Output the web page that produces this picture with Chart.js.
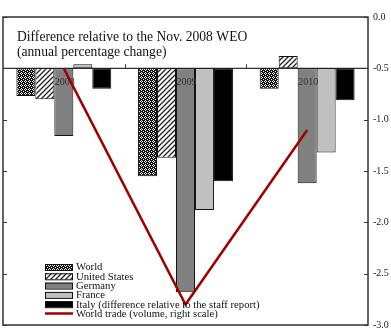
<!DOCTYPE html>
<html>
<head>
<meta charset="utf-8">
<script src="https://cdn.jsdelivr.net/npm/chart.js@4/dist/chart.umd.min.js"></script>
<style>
  html, body { margin: 0; padding: 0; background: #ffffff; }
  #wrap { position: relative; width: 391px; height: 329px; }
</style>
</head>
<body>
<div id="wrap"><canvas id="c" width="391" height="329"></canvas></div>
<script>
// Revisions to growth forecasts, percentage points
const categories = ['2008', '2009', '2010'];
const world = [-0.27, -1.05, -0.20];
const unitedStates = [-0.30, -0.87, 0.12];
const germany = [-0.66, -2.18, -1.12];
const france = [0.04, -1.38, -0.82];
const italy = [-0.20, -1.10, -0.31];
// World trade volume revision (right scale)
const worldTrade = [-0.5, -2.8, -1.1];

const titleLines = ['Difference relative to the Nov. 2008 WEO', '(annual percentage change)'];
const seriesNames = ['World', 'United States', 'Germany', 'France',
  'Italy (difference relative to the staff report)', 'World trade (volume, right scale)'];

const SERIF = "'Liberation Serif', 'Times New Roman', serif";
Chart.defaults.font.family = SERIF;

function crossPattern() {
  const t = document.createElement('canvas');
  t.width = 4; t.height = 4;
  const g = t.getContext('2d');
  g.fillStyle = '#151515';
  g.fillRect(0, 0, 4, 4);
  g.fillStyle = '#f0f0f0';
  [[0, 1], [1, 0], [2, 1], [1, 2], [3, 3]].forEach(p => g.fillRect(p[0], p[1], 1, 1));
  return g.createPattern(t, 'repeat');
}
function hatchPattern() {
  const s = 5;
  const t = document.createElement('canvas');
  t.width = s; t.height = s;
  const g = t.getContext('2d');
  g.fillStyle = '#ffffff';
  g.fillRect(0, 0, s, s);
  g.strokeStyle = '#222';
  g.lineWidth = 1.3;
  g.beginPath();
  g.moveTo(-1, s + 1); g.lineTo(s + 1, -1);
  g.moveTo(-1, 1); g.lineTo(1, -1);
  g.moveTo(s - 1, s + 1); g.lineTo(s + 1, s - 1);
  g.stroke();
  return g.createPattern(t, 'repeat');
}

const ctx = document.getElementById('c').getContext('2d');

function barSet(label, data, fill) {
  return {
    type: 'bar', label, data, backgroundColor: fill,
    borderColor: '#111', borderWidth: 1, borderSkipped: false,
    yAxisID: 'y', order: 1
  };
}

const decor = {
  id: 'decor',
  beforeDatasetsDraw(chart) {
    const { ctx, chartArea: a, scales } = chart;
    const yL = scales.y, yR = scales.y2, x = scales.x;
    const z = yL.getPixelForValue(0);
    ctx.save();
    ctx.strokeStyle = '#333';
    ctx.lineWidth = 1.3;
    ctx.beginPath();
    ctx.moveTo(a.left, z); ctx.lineTo(a.right, z);
    ctx.stroke();
    ctx.lineWidth = 1;
    ctx.beginPath();
    // category separators on the zero line
    for (let i = 1; i < categories.length; i++) {
      const px = Math.round((x.getPixelForTick(i - 1) + x.getPixelForTick(i)) / 2) + 0.5;
      ctx.moveTo(px, z); ctx.lineTo(px, z - 4);
    }
    // inward ticks on both value axes
    yL.ticks.forEach((t, i) => {
      const py = Math.round(yL.getPixelForTick(i)) + 0.5;
      ctx.moveTo(a.left, py); ctx.lineTo(a.left + 4, py);
    });
    yR.ticks.forEach((t, i) => {
      const py = Math.round(yR.getPixelForTick(i)) + 0.5;
      ctx.moveTo(a.right, py); ctx.lineTo(a.right - 4, py);
    });
    ctx.stroke();
    ctx.restore();
  },
  afterDatasetDraw(chart, args) {
    if (args.index !== 0) return;
    const { ctx, scales } = chart;
    const z = scales.y.getPixelForValue(0);
    ctx.save();
    ctx.fillStyle = '#333';
    ctx.font = '10px ' + SERIF;
    ctx.textAlign = 'center';
    ctx.textBaseline = 'middle';
    chart.data.labels.forEach((lab, i) => {
      ctx.fillText(lab, scales.x.getPixelForTick(i) + 1, z + 14);
    });
    ctx.restore();
  },
  afterDraw(chart) {
    const { ctx, chartArea: a } = chart;
    ctx.save();
    ctx.strokeStyle = '#333';
    ctx.lineWidth = 1.5;
    ctx.strokeRect(a.left, a.top, a.right - a.left, a.bottom - a.top);

    ctx.fillStyle = '#111';
    ctx.font = '13.6px ' + SERIF;
    ctx.textAlign = 'left';
    ctx.textBaseline = 'middle';
    titleLines.forEach((t, i) => ctx.fillText(t, a.left + 14, a.top + 20 + i * 15.5));

    // legend
    ctx.font = '10.7px ' + SERIF;
    const lx = a.left + 42, sw = 28, top = a.top + 250, step = 9.3;
    chart.data.datasets.forEach((ds, i) => {
      const cy = top + i * step;
      if (ds.type === 'line') {
        ctx.strokeStyle = ds.borderColor;
        ctx.lineWidth = 2.5;
        ctx.beginPath();
        ctx.moveTo(lx, cy); ctx.lineTo(lx + sw, cy);
        ctx.stroke();
      } else {
        ctx.fillStyle = ds.backgroundColor;
        ctx.fillRect(lx, cy - 3, sw, 6);
        ctx.strokeStyle = '#111';
        ctx.lineWidth = 1;
        ctx.strokeRect(lx + 0.5, cy - 3 + 0.5, sw - 1, 6);
      }
      ctx.fillStyle = '#111';
      ctx.fillText(ds.label, lx + sw + 3, cy + 0.5);
    });
    ctx.restore();
  }
};

new Chart(ctx, {
  data: {
    labels: categories,
    datasets: [
      barSet(seriesNames[0], world, crossPattern()),
      barSet(seriesNames[1], unitedStates, hatchPattern()),
      barSet(seriesNames[2], germany, '#808080'),
      barSet(seriesNames[3], france, '#c0c0c0'),
      barSet(seriesNames[4], italy, '#000000'),
      {
        type: 'line', label: seriesNames[5], data: worldTrade,
        borderColor: '#a00000', borderWidth: 2.5, pointRadius: 0,
        tension: 0, fill: false, yAxisID: 'y2', order: 0
      }
    ]
  },
  options: {
    responsive: false,
    animation: false,
    devicePixelRatio: 1,
    layout: { padding: { left: 3, top: 17, bottom: 4, right: 0 } },
    datasets: { bar: { barPercentage: 1.0, categoryPercentage: 0.78 } },
    plugins: { legend: { display: false }, tooltip: { enabled: false }, title: { display: false } },
    scales: {
      x: { type: 'category', display: false, offset: true },
      y: {
        position: 'left', min: -2.5, max: 0.5,
        ticks: { display: false, stepSize: 0.5 },
        grid: { display: false }, border: { display: false },
        afterFit(s) { s.width = 0; s.paddingTop = 0; s.paddingBottom = 0; }
      },
      y2: {
        position: 'right', min: -3, max: 0,
        ticks: {
          stepSize: 0.5, padding: 5, color: '#222',
          font: { size: 10, family: SERIF },
          callback: v => Number(v).toFixed(1)
        },
        grid: { drawOnChartArea: false, drawTicks: false }, border: { display: false },
        afterFit(s) { s.width = 23; s.paddingTop = 0; s.paddingBottom = 0; }
      }
    }
  },
  plugins: [decor]
});
</script>
</body>
</html>
